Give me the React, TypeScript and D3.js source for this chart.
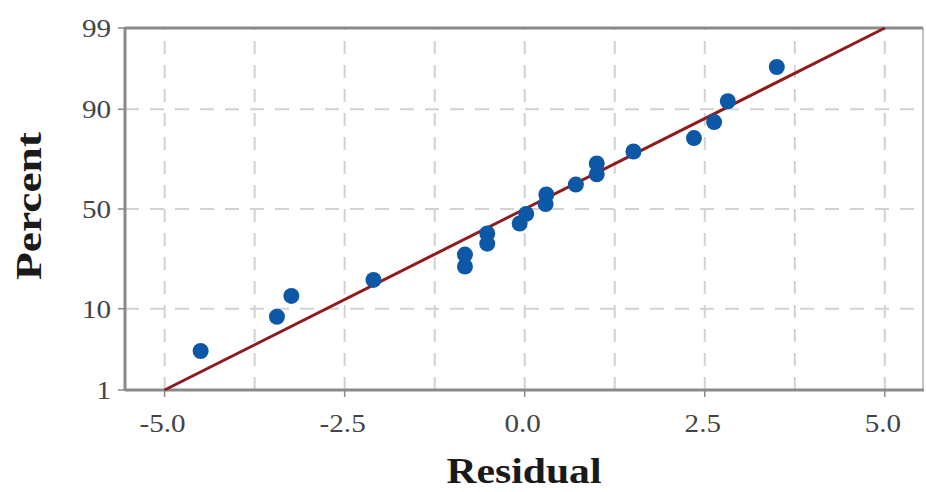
import React from "react";
import * as d3 from "d3";

// ---- data ----
const residuals = [-4.5, -3.44, -3.24, -2.1, -0.83, -0.83, -0.52, -0.52, -0.07, 0.02, 0.29, 0.3, 0.71, 1.0, 1.0, 1.51, 2.35, 2.63, 2.82, 3.5];
const percents = [3.4, 8.3, 13.2, 18.1, 23.0, 27.9, 32.8, 37.7, 42.6, 47.5, 52.5, 57.4, 62.3, 67.2, 72.1, 77.0, 81.9, 86.8, 91.7, 96.6];
const fitResidual = [-5.0, 5.0];
const fitPercent = [1, 99];
const xTickValues = [-5.0, -2.5, 0.0, 2.5, 5.0];
const xGridValues = [-5.0, -3.75, -2.5, -1.25, 0.0, 1.25, 2.5, 3.75, 5.0];
const yTickValues = [1, 10, 50, 90, 99];
const yGridValues = [10, 50, 90];
const xTitle = "Residual";
const yTitle = "Percent";

// inverse standard normal CDF (Acklam)
function probit(p: number): number {
  const a = [-3.969683028665376e1, 2.209460984245205e2, -2.759285104469687e2, 1.38357751867269e2, -3.066479806614716e1, 2.506628277459239];
  const b = [-5.447609879822406e1, 1.615858368580409e2, -1.556989798598866e2, 6.680131188771972e1, -1.328068155288572e1];
  const c = [-7.784894002430293e-3, -3.223964580411365e-1, -2.400758277161838, -2.549732539343734, 4.374664141464968, 2.938163982698783];
  const d = [7.784695709041462e-3, 3.224671290700398e-1, 2.445134137142996, 3.754408661907416];
  const pl = 0.02425;
  if (p < pl) {
    const q = Math.sqrt(-2 * Math.log(p));
    return (((((c[0] * q + c[1]) * q + c[2]) * q + c[3]) * q + c[4]) * q + c[5]) / ((((d[0] * q + d[1]) * q + d[2]) * q + d[3]) * q + 1);
  }
  if (p > 1 - pl) {
    const q = Math.sqrt(-2 * Math.log(1 - p));
    return -(((((c[0] * q + c[1]) * q + c[2]) * q + c[3]) * q + c[4]) * q + c[5]) / ((((d[0] * q + d[1]) * q + d[2]) * q + d[3]) * q + 1);
  }
  const q = p - 0.5;
  const r = q * q;
  return ((((((a[0] * r + a[1]) * r + a[2]) * r + a[3]) * r + a[4]) * r + a[5]) * q) / (((((b[0] * r + b[1]) * r + b[2]) * r + b[3]) * r + b[4]) * r + 1);
}

const W = 926;
const H = 492;
const L = 125;
const R = 923;
const T = 28;
const B = 390;

export default function App() {
  const x = d3.scaleLinear().domain([-5.55, 5.53]).range([L, R]);
  const z = d3.scaleLinear().domain([probit(0.01), probit(0.99)]).range([B, T]);
  const y = (pct: number) => z(probit(pct / 100));

  const line = d3
    .line<[number, number]>()
    .x((d) => x(d[0]))
    .y((d) => y(d[1]));
  const fitPts: [number, number][] = fitResidual.map((r, i) => [r, fitPercent[i]]);

  const tickFont = "'Liberation Serif', 'Times New Roman', serif";
  const titleFont = "'Liberation Serif', 'Times New Roman', serif";
  const gridColor = "#d2d2d2";
  const axisColor = "#8a8a8a";
  const tickColor = "#444";

  return (
    <svg width={W} height={H} style={{ position: "fixed", left: 0, top: 0, background: "#fff" }}>
      <rect x={0} y={0} width={W} height={H} fill="#fff" />
      {/* grid */}
      {xGridValues.map((v) => (
        <line key={"gx" + v} x1={x(v)} x2={x(v)} y1={B} y2={T} stroke={gridColor} strokeWidth={2} strokeDasharray="13 11" />
      ))}
      {yGridValues.map((v) => (
        <line key={"gy" + v} x1={L} x2={R} y1={y(v)} y2={y(v)} stroke={gridColor} strokeWidth={2} strokeDasharray="14 11" />
      ))}
      {/* frame */}
      <line x1={R} x2={R} y1={T} y2={B} stroke="#b0b0b0" strokeWidth={1.5} />
      <line x1={L} x2={R} y1={T} y2={T} stroke={axisColor} strokeWidth={3} />
      <line x1={L} x2={R + 1} y1={B} y2={B} stroke={axisColor} strokeWidth={3} />
      <line x1={L} x2={L} y1={T - 1} y2={B + 1} stroke={axisColor} strokeWidth={3} />
      {/* ticks */}
      {xTickValues.map((v) => (
        <g key={"xt" + v}>
          <line x1={x(v)} x2={x(v)} y1={B} y2={B + 7} stroke={axisColor} strokeWidth={1.5} />
          <text transform={`translate(${x(v) - 2}, ${B + 42}) scale(1.12, 1)`} textAnchor="middle" fontFamily={tickFont} fontSize={26} fill={tickColor}>
            {v.toFixed(1)}
          </text>
        </g>
      ))}
      {yTickValues.map((v) => (
        <g key={"yt" + v}>
          <line x1={L - 7} x2={L} y1={y(v)} y2={y(v)} stroke={axisColor} strokeWidth={1.5} />
          <text transform={`translate(${L - 14}, ${y(v)}) scale(1.12, 1)`} dy="0.34em" textAnchor="end" fontFamily={tickFont} fontSize={26} fill={tickColor}>
            {v}
          </text>
        </g>
      ))}
      {/* fit line */}
      <path d={line(fitPts) || ""} fill="none" stroke="#8f1c1c" strokeWidth={3} />
      {/* points */}
      {residuals.map((r, i) => (
        <circle key={"p" + i} cx={x(r)} cy={y(percents[i])} r={8} fill="#0d58a6" />
      ))}
      {/* titles */}
      <text x={(L + R) / 2} y={483} textAnchor="middle" fontFamily={titleFont} fontWeight="bold" fontSize={35} fill="#1a1a1a" textLength={155} lengthAdjust="spacingAndGlyphs">
        {xTitle}
      </text>
      <text transform={`translate(41, ${(T + B) / 2 - 3}) rotate(-90)`} textAnchor="middle" fontFamily={titleFont} fontWeight="bold" fontSize={36} fill="#1a1a1a" textLength={148} lengthAdjust="spacingAndGlyphs">
        {yTitle}
      </text>
    </svg>
  );
}
